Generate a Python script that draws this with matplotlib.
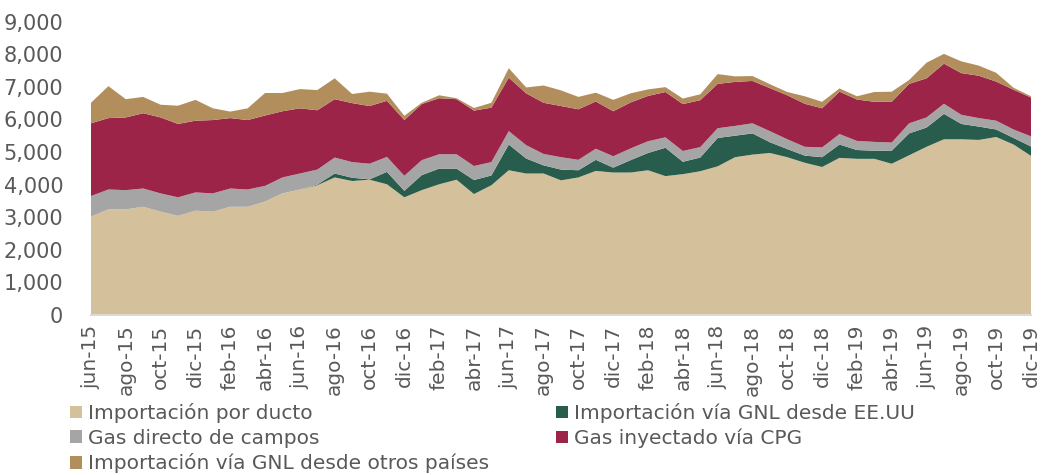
import matplotlib.pyplot as plt
import numpy as np

months = ['ene', 'feb', 'mar', 'abr', 'may', 'jun', 'jul', 'ago', 'sep', 'oct', 'nov', 'dic']
fechas = []
for k in range(55):
    m = (5 + k) % 12
    a = 15 + (5 + k) // 12
    fechas.append('%s-%d' % (months[m], a))

labels = ['Importación por ducto', 'Importación vía GNL desde EE.UU', 'Gas directo de campos',
          'Gas inyectado vía CPG', 'Importación vía GNL desde otros países']

ducto = [3020, 3240, 3240, 3320, 3170, 3040, 3200, 3170, 3320, 3320, 3480, 3730, 3850, 3980,
         4220, 4110, 4150, 4010, 3610, 3830, 4010, 4150, 3710, 3980, 4440, 4340, 4340, 4130,
         4220, 4420, 4370, 4370, 4440, 4260, 4320, 4410, 4560, 4840, 4920, 4970, 4840, 4670,
         4540, 4820, 4790, 4790, 4640, 4900, 5160, 5390, 5390, 5370, 5460, 5230, 4880]
gnl_eeuu = [0, 0, 0, 0, 0, 0, 0, 0, 0, 0, 0, 0, 0, 20,
            120, 100, 10, 380, 200, 460, 480, 340, 430, 300, 790, 460, 250, 330,
            220, 340, 150, 380, 530, 870, 380, 420, 870, 660, 650, 330, 250, 220,
            300, 410, 270, 250, 400, 670, 590, 780, 470, 410, 230, 200, 290]
campos = [630, 610, 590, 560, 560, 570, 560, 560, 560, 530, 480, 490, 490, 460,
          490, 480, 480, 460, 460, 460, 440, 440, 430, 410, 410, 410, 350, 380,
          320, 340, 350, 360, 360, 320, 330, 320, 300, 300, 310, 340, 300, 270,
          300, 320, 280, 270, 250, 310, 310, 310, 280, 260, 270, 260, 310]
cpg = [2230, 2190, 2230, 2310, 2330, 2250, 2200, 2250, 2160, 2130, 2160, 2030, 2000, 1820,
       1790, 1810, 1770, 1720, 1710, 1720, 1720, 1690, 1700, 1670, 1640, 1590, 1570, 1570,
       1550, 1450, 1380, 1410, 1390, 1390, 1440, 1440, 1360, 1350, 1300, 1320, 1350, 1320,
       1200, 1300, 1270, 1230, 1250, 1210, 1200, 1230, 1280, 1300, 1200, 1220, 1190]
otros = [630, 980, 560, 500, 390, 560, 640, 360, 200, 360, 690, 560, 590, 620,
         640, 280, 440, 220, 130, 40, 90, 30, 80, 150, 290, 180, 530, 480,
         380, 270, 350, 280, 200, 150, 170, 180, 300, 170, 150, 120, 100, 230,
         200, 100, 100, 300, 310, 120, 480, 300, 360, 310, 270, 60, 40]

colores = ['#D4C19C', '#285C4D', '#A5A5A5', '#9D2449', '#B38E5D']
gris = '#595959'

fig = plt.figure(figsize=(10.42, 4.75), dpi=100)
ax = fig.add_axes([91 / 1042, (475 - 315) / 475, (1031 - 91) / 1042, 293.4 / 475])

x = np.arange(len(fechas))
polys = ax.stackplot(x, ducto, gnl_eeuu, campos, cpg, otros, colors=colores, linewidth=0)

ax.set_xlim(0, len(fechas) - 1)
ax.set_ylim(0, 9000)
ax.set_yticks(range(0, 9001, 1000))
ax.set_yticklabels(['{:,}'.format(v) for v in range(0, 9001, 1000)])
ax.set_xticks(x[::2])
ax.set_xticklabels(fechas[::2], rotation=90)
ax.tick_params(length=0, colors=gris)
ax.tick_params(axis='x', labelsize=14.5, pad=7)
ax.tick_params(axis='y', labelsize=15, pad=20)
for s in ['top', 'right', 'left']:
    ax.spines[s].set_visible(False)
ax.spines['bottom'].set_color('#D9D9D9')
ax.spines['bottom'].set_linewidth(1.5)

orden = [0, 2, 4, 1, 3]
leg = fig.legend([polys[i] for i in orden], [labels[i] for i in orden], ncol=2,
                 loc='upper left', bbox_to_anchor=(70 / 1042, 1 - 403 / 475),
                 frameon=False, fontsize=14.5, handlelength=0.6, handleheight=0.6,
                 handletextpad=0.3, labelspacing=0.28, columnspacing=3.3,
                 borderaxespad=0, borderpad=0)
for t in leg.get_texts():
    t.set_color(gris)

plt.savefig('out.png', dpi=100)
